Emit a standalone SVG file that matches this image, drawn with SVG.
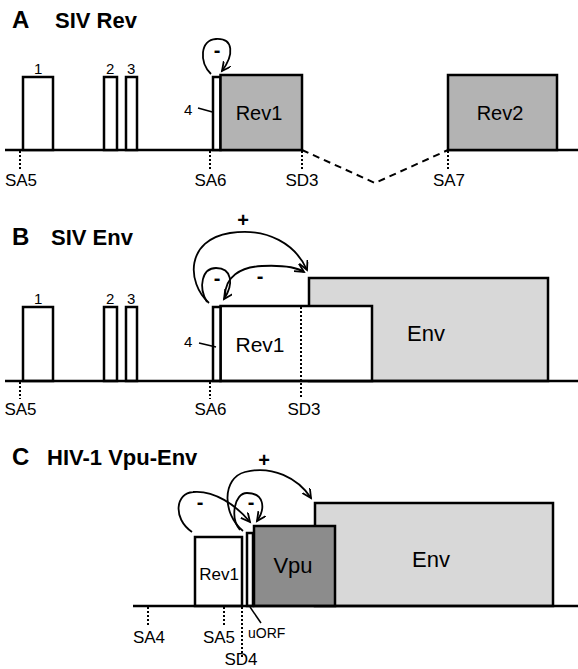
<svg xmlns="http://www.w3.org/2000/svg" width="578" height="669" viewBox="0 0 578 669">
<style>
text{font-family:"Liberation Sans",Arial,sans-serif;fill:#000}
.let{font-size:24px;font-weight:bold}
.ttl{font-size:22px;font-weight:bold}
.num{font-size:15px}
.site{font-size:17px;text-anchor:middle}
.sign{font-size:20px;font-weight:bold;text-anchor:middle}
.gene{text-anchor:middle}
.box{stroke:#000;stroke-width:2.5}
.white{fill:#fff}
.rev{fill:#b3b3b3}
.env{fill:#d8d8d8}
.vpu{fill:#8c8c8c}
.base{stroke:#000;stroke-width:2.5;fill:none}
.dot{stroke:#000;stroke-width:2;stroke-dasharray:2,2;fill:none}
.arc{stroke:#000;stroke-width:1.8;fill:none;marker-end:url(#ah)}
.lead{stroke:#000;stroke-width:1.5}
</style>
<defs>
<marker id="ah" markerUnits="userSpaceOnUse" markerWidth="12" markerHeight="12" refX="9" refY="4.5" orient="auto">
<path d="M0,0 L9,4.5 L0,9" fill="none" stroke="#000" stroke-width="1.8"/>
</marker>
</defs>
<rect width="578" height="669" fill="#fff"/>

<!-- Panel A -->
<g id="panelA-title">
<text class="let" x="12" y="28">A</text>
<text class="ttl" x="55" y="28">SIV Rev</text>
</g>
<g id="connectorsA">
<path class="base" d="M5,150 H302"/>
<path class="base" d="M448,150 H578"/>
<path d="M302,150 L375,183 L448,150" fill="none" stroke="#000" stroke-width="2" stroke-dasharray="7,5"/>
<path class="dot" d="M20,151 V169"/>
<path class="dot" d="M210,151 V169"/>
<path class="dot" d="M302,151 V169"/>
<path class="dot" d="M448,151 V169"/>
<path class="arc" d="M211,74 C199,62 200,40 216,39 C234,38 234,55 222,71"/>
<line class="lead" x1="198" y1="108" x2="216" y2="113"/>
</g>
<g id="A-exon1"><rect class="box white" x="23" y="77" width="30" height="73"/><text class="num" x="34" y="74">1</text></g>
<g id="A-exon2"><rect class="box white" x="104" y="77" width="13" height="73"/><text class="num" x="106" y="74">2</text></g>
<g id="A-exon3"><rect class="box white" x="126" y="77" width="11" height="73"/><text class="num" x="127" y="74">3</text></g>
<g id="A-exon4"><rect class="box white" x="213" y="77" width="7.5" height="73"/><text class="num" x="184" y="115">4</text></g>
<g id="A-rev1"><rect class="box rev" x="220.5" y="75" width="81.5" height="75"/><text class="gene" x="259" y="120" font-size="20">Rev1</text></g>
<g id="A-rev2"><rect class="box rev" x="448" y="75" width="109" height="75"/><text class="gene" x="500" y="120" font-size="20">Rev2</text></g>
<g id="A-labels">
<text class="site" x="21" y="186">SA5</text>
<text class="site" x="210.5" y="186">SA6</text>
<text class="site" x="302" y="186">SD3</text>
<text class="site" x="449" y="186">SA7</text>
<text class="sign" x="217" y="57">-</text>
</g>

<!-- Panel B -->
<g id="panelB-title">
<text class="let" x="12" y="245">B</text>
<text class="ttl" x="51" y="245">SIV Env</text>
</g>
<g id="B-env"><rect class="box env" x="309" y="278" width="239" height="103"/><text class="gene" x="426" y="341" font-size="22">Env</text></g>
<g id="B-rev1"><rect class="box white" x="220.5" y="306" width="151.5" height="75"/><text class="gene" x="260" y="352" font-size="21">Rev1</text></g>
<g id="B-exon1"><rect class="box white" x="23" y="307" width="30" height="74"/><text class="num" x="34" y="304">1</text></g>
<g id="B-exon2"><rect class="box white" x="104" y="307" width="13" height="74"/><text class="num" x="106" y="304">2</text></g>
<g id="B-exon3"><rect class="box white" x="126" y="307" width="11" height="74"/><text class="num" x="127" y="304">3</text></g>
<g id="B-exon4"><rect class="box white" x="213" y="307" width="7.5" height="74"/><text class="num" x="184" y="347">4</text></g>
<g id="connectorsB">
<path class="base" d="M5,381 H578"/>
<path class="dot" d="M20,382 V399"/>
<path class="dot" d="M210,382 V399"/>
<path class="dot" d="M301,307 V398"/>
<line class="lead" x1="199" y1="343" x2="216" y2="347"/>
<path class="arc" d="M209,303 C186,282 186,240 230,233 C268,227 296,245 307,270"/>
<path class="arc" d="M207,302 C198,287 202,268 216,268 C232,268 234,284 224,299"/>
<path class="arc" d="M225,296 C225,277 240,267 262,266 C283,265 296,267 304,272"/>
</g>
<g id="B-labels">
<text class="site" x="20.5" y="415">SA5</text>
<text class="site" x="210.5" y="415">SA6</text>
<text class="site" x="304" y="415">SD3</text>
<text class="sign" x="243" y="227">+</text>
<text class="sign" x="217" y="285">-</text>
<text class="sign" x="260" y="283">-</text>
</g>

<!-- Panel C -->
<g id="panelC-title">
<text class="let" x="12" y="465">C</text>
<text class="ttl" x="47" y="465">HIV-1 Vpu-Env</text>
</g>
<g id="C-env"><rect class="box env" x="315" y="503" width="238" height="103"/><text class="gene" x="431" y="567" font-size="22">Env</text></g>
<g id="C-vpu"><rect class="box vpu" x="254" y="526" width="81" height="80"/><text class="gene" x="293" y="573" font-size="22">Vpu</text></g>
<g id="C-rev1"><rect class="box white" x="195" y="537" width="47" height="69"/><text class="gene" x="219" y="580" font-size="17">Rev1</text></g>
<g id="C-uorf"><rect class="box white" x="247" y="533" width="6" height="73"/></g>
<g id="connectorsC">
<path class="base" d="M133,606 H578"/>
<path class="dot" d="M148,607 V625"/>
<path class="dot" d="M224,607 V625"/>
<path class="dot" d="M242,607 V657"/>
<line class="lead" x1="250" y1="607" x2="261" y2="623"/>
<path class="arc" d="M192,532 C172,518 176,493 193,492 C214,490 236,505 250,522"/>
<path class="arc" d="M240,530 C230,518 234,493 247,493 C264,493 266,508 257,521"/>
<path class="arc" d="M243,531 C222,514 222,478 245,472 C272,465 298,478 311,498"/>
</g>
<g id="C-labels">
<text class="site" x="149" y="643">SA4</text>
<text class="site" x="219" y="643">SA5</text>
<text class="site" x="241" y="665">SD4</text>
<text x="248" y="638" font-size="14">uORF</text>
<text class="sign" x="264" y="467">+</text>
<text class="sign" x="200" y="509">-</text>
<text class="sign" x="251" y="509">-</text>
</g>
</svg>
